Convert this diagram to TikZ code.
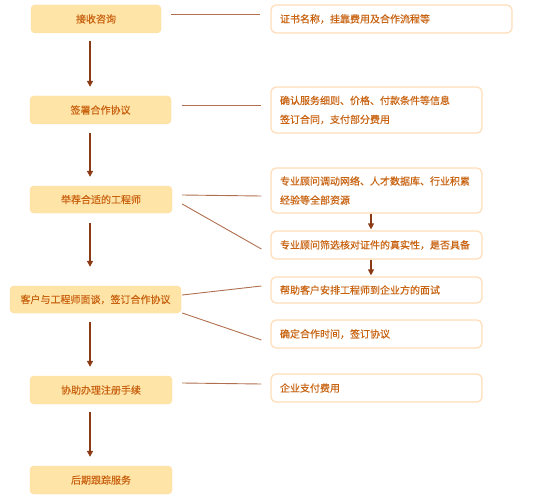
\documentclass[tikz,border=0pt]{standalone}
\usepackage{fontspec}
\setmainfont{Noto Sans CJK SC}[FakeBold=0.3]
\usepackage{tikz}
\usetikzlibrary{arrows.meta}

\definecolor{stagefill}{HTML}{FFE4A8}
\definecolor{stageline}{HTML}{FFD994}
\definecolor{noteline}{HTML}{FFDDB8}
\definecolor{txtorange}{HTML}{C8620F}
\definecolor{flowbrown}{HTML}{8B3A16}
\definecolor{linkbrown}{HTML}{B07050}

\begin{document}
\begin{tikzpicture}[x=1pt, y=-1pt,
    every node/.style={font=\fontsize{10pt}{19pt}\selectfont, text=txtorange},
    stage/.style={draw=stageline, fill=stagefill, rounded corners=4pt, minimum height=28pt, inner sep=0pt},
    note/.style={draw=noteline, line width=1.2pt, fill=white, rounded corners=5pt, inner xsep=9pt, inner ysep=0pt, align=left},
    flow/.style={draw=flowbrown, line width=1.2pt, -{Triangle[width=6pt,length=6pt]}},
    link/.style={draw=linkbrown, line width=0.9pt}]
   \useasboundingbox (0,0) rectangle (543,500);

   % left column
   \node[stage, minimum width=130pt] (s1) at (96,19) {接收咨询};
   \node[stage, minimum width=141pt] (s2) at (100.5,110) {签署合作协议};
   \node[stage, minimum width=142pt, minimum height=27pt] (s3) at (101,199.5) {举荐合适的工程师};
   \node[stage, minimum width=171pt, minimum height=27pt] (s4) at (95.5,299.5) {客户与工程师面谈，签订合作协议};
   \node[stage, minimum width=142pt] (s5) at (101,390) {协助办理注册手续};
   \node[stage, minimum width=142pt] (s6) at (101,480) {后期跟踪服务};

   % right column
   \node[note, text width=223pt, minimum height=28pt] (n1) at (391.5,19) {证书名称，挂靠费用及合作流程等};
   \node[note, text width=193pt, minimum height=46pt] (n2) at (376.5,110) {确认服务细则、价格、付款条件等信息\\签订合同，支付部分费用};
   \node[note, text width=193pt, minimum height=45pt] (n3) at (376.5,190.5) {专业顾问调动网络、人才数据库、行业积累\\经验等全部资源};
   \node[note, text width=193pt, minimum height=28pt] (n4) at (376.5,245) {专业顾问筛选核对证件的真实性，是否具备};
   \node[note, text width=193pt, minimum height=26pt] (n5) at (376.5,290) {帮助客户安排工程师到企业方的面试};
   \node[note, text width=193pt, minimum height=28pt] (n6) at (376.5,334) {确定合作时间，签订协议};
   \node[note, text width=193pt, minimum height=28pt] (n7) at (376.5,388) {企业支付费用};

   \coordinate (ax) at (90,0);
   \coordinate (bx) at (371,0);

   \draw[flow, shorten <=8pt, shorten >=9pt] (s1.south -| ax) -- (s2.north -| ax);
   \draw[flow, shorten <=9pt, shorten >=9pt] (s2.south -| ax) -- (s3.north -| ax);
   \draw[flow, shorten <=10pt, shorten >=19pt] (s3.south -| ax) -- (s4.north -| ax);
   \draw[flow, shorten <=9pt, shorten >=9pt] (s4.south -| ax) -- (s5.north -| ax);
   \draw[flow, shorten <=8pt, shorten >=9pt] (s5.south -| ax) -- (s6.north -| ax);
   \draw[flow, shorten >=1pt] (n3.south -| bx) -- (n4.north -| bx);
   \draw[flow, shorten >=1pt] (n4.south -| bx) -- (n5.north -| bx);

   \draw[link] ([xshift=10pt,yshift=5pt]s1.east) -- ([xshift=-10pt,yshift=5pt]n1.west);
   \draw[link] ([xshift=11pt,yshift=5pt]s2.east) -- ([xshift=-9pt,yshift=5pt]n2.west);
   \draw[link] ([xshift=10pt,yshift=4.5pt]s3.east) -- ([xshift=-9pt,yshift=-5.5pt]n3.west);
   \draw[link] ([xshift=10pt,yshift=-4.5pt]s3.east) -- ([xshift=-9pt,yshift=-4pt]n4.west);
   \draw[link] ([xshift=1pt,yshift=4.5pt]s4.east) -- ([xshift=-9pt,yshift=4pt]n5.west);
   \draw[link] ([xshift=1pt,yshift=-13.5pt]s4.east) -- ([xshift=-9pt,yshift=-6pt]n6.west);
   \draw[link] ([xshift=10pt,yshift=7pt]s5.east) -- ([xshift=-9pt,yshift=4pt]n7.west);
\end{tikzpicture}
\end{document}
